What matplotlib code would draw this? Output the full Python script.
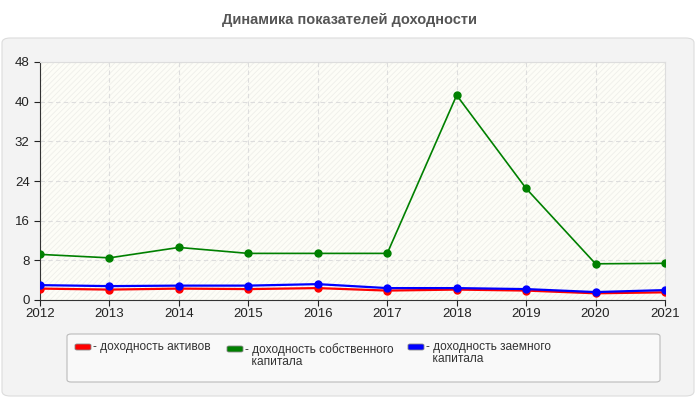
import matplotlib.pyplot as plt
from matplotlib.patches import FancyBboxPatch, Rectangle
import numpy as np

years = [2012, 2013, 2014, 2015, 2016, 2017, 2018, 2019, 2020, 2021]
roa = [2.3, 2.1, 2.3, 2.2, 2.4, 1.9, 2.1, 1.9, 1.35, 1.55]
roe = [9.2, 8.5, 10.6, 9.4, 9.4, 9.4, 41.3, 22.5, 7.3, 7.4]
rod = [3.0, 2.8, 2.9, 2.9, 3.2, 2.4, 2.4, 2.2, 1.6, 2.0]

labels = ['- доходность активов',
          '- доходность собственного\n  капитала',
          '- доходность заемного\n  капитала']
colors = ['#ff0000', '#008000', '#0000ff']

plt.rcParams['font.family'] = ['Liberation Sans', 'DejaVu Sans']
plt.rcParams['hatch.linewidth'] = 0.6

fig = plt.figure(figsize=(7, 4), dpi=100)
W, H = 700, 400

def fx(px):
    return px / W

def fy(py):
    return 1 - py / H

# outer panel
fig.patches.append(FancyBboxPatch((fx(2), fy(396)), fx(692), 358 / H,
                                  boxstyle='round,pad=0,rounding_size=0.012',
                                  transform=fig.transFigure, facecolor='#f3f3f3',
                                  edgecolor='#dcdcdc', lw=0.8, zorder=-5))

fig.text(0.5, fy(20), 'Динамика показателей доходности', ha='center', va='center',
         fontsize=10.5, fontweight='bold', color='#555555')

ax = fig.add_axes([fx(40), fy(300), fx(625), 238 / H])
ax.set_zorder(5)
ax.set_facecolor('#fdfdf7')
ax.add_patch(Rectangle((0, 0), 1, 1, transform=ax.transAxes, facecolor='none',
                       hatch='//////', edgecolor='#efefea', lw=0, zorder=0))

ax.plot(years, roa, color=colors[0], lw=1.6, marker='o', ms=5, zorder=3)
ax.plot(years, roe, color=colors[1], lw=1.2, marker='o', ms=5, zorder=3)
ax.plot(years, rod, color=colors[2], lw=1.6, marker='o', ms=5, zorder=4)

ax.set_xlim(2012, 2021)
ax.set_ylim(0, 48)
ax.set_xticks(years)
ax.set_yticks(np.arange(0, 49, 8))
ax.grid(True, color='#dddddd', linestyle=(0, (4, 3)), lw=0.8)
ax.set_axisbelow(True)
for s in ['top', 'right']:
    ax.spines[s].set_color('#dddddd')
for s in ['left', 'bottom']:
    ax.spines[s].set_color('#333333')
ax.tick_params(labelsize=9.5, colors='#222222', length=4, width=0.8)
ax.tick_params(axis='x', pad=2)

# legend box
fig.patches.append(FancyBboxPatch((fx(67), fy(382)), fx(593), 48 / H,
                                  boxstyle='round,pad=0,rounding_size=0.006',
                                  transform=fig.transFigure, facecolor='#f9f9f9',
                                  edgecolor='#bbbbbb', lw=0.8, zorder=1))
sw_x = [75, 227, 408]
sw_y = [347, 349, 347]
for x, y, c, lab in zip(sw_x, sw_y, colors, labels):
    fig.patches.append(FancyBboxPatch((fx(x), fy(y + 3)), fx(16), 6 / H,
                                      boxstyle='round,pad=0,rounding_size=0.003',
                                      transform=fig.transFigure, facecolor=c,
                                      edgecolor='#888888', lw=0.6, zorder=2))
    fig.text(fx(x + 18), fy(y - 6), lab, ha='left', va='top', fontsize=8.6,
             color='#333333', linespacing=1.05)

fig.savefig('out.png', dpi=100)
